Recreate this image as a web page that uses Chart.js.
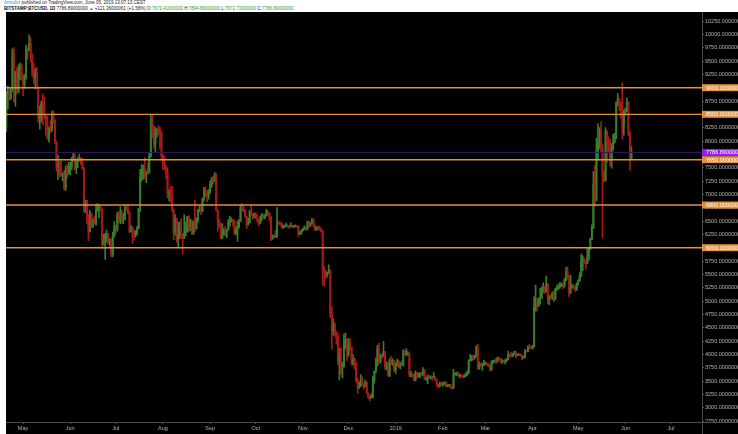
<!DOCTYPE html>
<html>
<head>
<meta charset="utf-8">
<script src="https://cdn.jsdelivr.net/npm/chart.js@4.4.1/dist/chart.umd.min.js"></script>
<style>
  html, body { margin: 0; padding: 0; background: #fff; }
  body { width: 738px; height: 434px; position: relative; overflow: hidden; font-family: "Liberation Sans", Arial, sans-serif; }
  #hdr { position: absolute; left: 4px; top: 0px; transform: scale(0.5); transform-origin: 0 0; white-space: nowrap; font-size: 9px; line-height: 11px; color: #222; }
  #hdr .user { color: #3a8fd8; }
  #hdr .g { color: #2f9a2f; }
  #hdr b { color: #111; }
  #wrap { position: absolute; left: 6px; top: 12px; width: 732px; height: 422px; background: #000; }
</style>
</head>
<body>
<div id="hdr">
  <div><span class="user">Annubiz</span> published on TradingView.com, June 05, 2019 13:07:13 CEST</div>
  <div><b>BITSTAMP:BTCUSD, 1D</b> 7786.89000000 <span class="g">▲</span> +121.36000061 (+1.58%) O:<span class="g">7673.41000000</span> H:<span class="g">7894.89000000</span> L:<span class="g">7672.73000000</span> C:<span class="g">7786.89000000</span></div>
</div>
<div id="wrap"><canvas id="chart" width="732" height="422"></canvas></div>
<script>
// ---------------- Data (daily candles, [open, high, low, close]) ----------------
const startDate = "2018-04-20";

const apr18 = [
  [8260,8930,8170,8850],[8850,9030,8600,8920],[8920,9000,8760,8800],[8800,9000,8780,8940],[8940,9730,8930,9650],
  [9650,9750,8730,8870],[8870,9310,8650,9280],[9280,9380,8900,8930],[8930,9430,8900,9350],[9350,9460,9150,9400],
  [9400,9450,9140,9240]
];
const may18 = [
  [9240,9250,8850,9070],[9070,9250,8990,9210],[9210,9800,9160,9740],[9740,9750,9530,9700],[9700,9990,9690,9830],
  [9830,9940,9480,9620],[9620,9630,9210,9360],[9360,9460,9080,9180],[9180,9360,8980,9300],[9300,9380,8980,9010],
  [9010,9010,8350,8420],[8420,8660,8220,8480],[8480,8750,8350,8700],[8700,8880,8300,8680],[8680,8830,8420,8480],
  [8480,8480,8110,8340],[8340,8470,8030,8060],[8060,8260,7980,8240],[8240,8380,8150,8230],[8230,8560,8180,8520],
  [8520,8560,8330,8390],[8390,8400,7950,7990],[7990,8000,7430,7500],[7500,7730,7280,7580],[7580,7630,7330,7460],
  [7460,7620,7340,7350],[7350,7400,7250,7360],[7360,7440,7090,7120],[7120,7530,7070,7470],[7470,7560,7310,7400],
  [7400,7600,7370,7500]
];
const jun18 = [
  [7500,7600,7370,7530],[7530,7690,7460,7640],[7640,7770,7620,7720],[7720,7750,7460,7490],[7490,7650,7390,7620],
  [7620,7690,7500,7650],[7650,7750,7630,7680],[7680,7690,7560,7620],[7620,7680,7470,7500],[7500,7500,6660,6760],
  [6760,6900,6660,6880],[6880,6890,6450,6550],[6550,6620,6130,6310],[6310,6700,6290,6640],[6640,6650,6380,6400],
  [6400,6550,6380,6500],[6500,6590,6440,6450],[6450,6800,6420,6710],[6710,6830,6680,6740],[6740,6800,6560,6760],
  [6760,6790,6700,6720],[6720,6730,5990,6060],[6060,6250,6050,6160],[6160,6270,5780,6250],[6250,6330,6100,6250],
  [6250,6270,6070,6090],[6090,6170,6030,6150],[6150,6170,5830,5870],[5870,6290,5830,6210],[6210,6490,6200,6390]
];
const jul18 = [
  [6390,6420,6260,6350],[6350,6660,6310,6610],[6610,6680,6480,6510],[6510,6770,6450,6590],[6590,6700,6460,6530],
  [6530,6650,6450,6600],[6600,6810,6520,6760],[6760,6790,6700,6710],[6710,6800,6640,6660],[6660,6680,6280,6300],
  [6300,6420,6290,6380],[6380,6390,6080,6240],[6240,6330,6140,6230],[6230,6320,6200,6270],[6270,6400,6240,6360],
  [6360,6740,6350,6730],[6730,7470,6680,7320],[7320,7560,7250,7380],[7380,7550,7280,7470],[7470,7690,7290,7340],
  [7340,7440,7220,7410],[7410,7580,7380,7400],[7400,7780,7400,7720],[7720,8490,7700,8400],[8400,8480,8060,8170],
  [8170,8290,7870,7940],[7940,8260,7800,8190],[8190,8230,8070,8220],[8220,8290,8110,8210],[8210,8260,7850,8170],
  [8170,8170,7640,7730]
];
const aug18 = [
  [7730,7750,7460,7600],[7600,7710,7460,7530],[7530,7540,7290,7410],[7410,7490,6930,7010],[7010,7090,6880,7030],
  [7030,7150,6850,6940],[6940,7150,6680,6720],[6720,6730,6150,6280],[6280,6620,6230,6540],[6540,6560,6100,6150],
  [6150,6480,6000,6240],[6240,6480,6170,6320],[6320,6540,6170,6250],[6250,6260,5880,6190],[6190,6620,6170,6270],
  [6270,6480,6220,6310],[6310,6590,6290,6580],[6580,6600,6300,6390],[6390,6540,6320,6490],[6490,6520,6250,6260],
  [6260,6500,6250,6480],[6480,6890,6300,6360],[6360,6560,6350,6530],[6530,6720,6480,6700],[6700,6800,6670,6730],
  [6730,6770,6620,6700],[6700,6930,6670,6910],[6910,7130,6880,7080],[7080,7140,6950,7040],[7040,7070,6860,6980],
  [6980,7090,6910,7030]
];
const sep18 = [
  [7030,7250,7020,7190],[7190,7320,7130,7290],[7290,7340,7190,7260],[7260,7410,7240,7370],[7370,7390,6690,6700],
  [6700,6700,6310,6520],[6520,6530,6370,6410],[6410,6460,6160,6180],[6180,6450,6170,6240],[6240,6360,6240,6320],
  [6320,6400,6220,6290],[6290,6340,6190,6330],[6330,6530,6330,6490],[6490,6590,6400,6490],[6490,6560,6480,6520],
  [6520,6530,6410,6500],[6500,6520,6250,6260],[6260,6390,6240,6340],[6340,6500,6120,6390],[6390,6530,6370,6490],
  [6490,6790,6490,6760],[6760,6830,6680,6710],[6710,6770,6680,6700],[6700,6720,6570,6590],[6590,6590,6360,6440],
  [6440,6550,6420,6470],[6470,6700,6460,6680],[6680,6790,6610,6630],[6630,6640,6530,6600],[6600,6650,6560,6630]
];
const oct18 = [
  [6630,6660,6540,6590],[6590,6620,6480,6510],[6510,6530,6410,6460],[6460,6600,6450,6560],[6560,6640,6510,6620],
  [6620,6630,6540,6580],[6580,6620,6540,6600],[6600,6720,6590,6680],[6680,6690,6610,6650],[6650,6650,6510,6580],
  [6580,6590,6130,6160],[6160,6240,6160,6200],[6200,6240,6190,6210],[6210,6330,6190,6200],[6200,6750,6190,6470],
  [6470,6500,6440,6450],[6450,6480,6420,6440],[6440,6470,6370,6380],[6380,6430,6360,6390],[6390,6420,6380,6410],
  [6410,6460,6400,6410],[6410,6430,6380,6400],[6400,6410,6360,6390],[6390,6470,6390,6410],[6410,6420,6380,6390],
  [6390,6420,6380,6400],[6400,6430,6390,6410],[6410,6420,6380,6400],[6400,6410,6210,6260],[6260,6300,6250,6280],
  [6280,6340,6250,6320]
];
const nov18 = [
  [6320,6370,6310,6350],[6350,6410,6340,6380],[6380,6390,6330,6360],[6360,6500,6330,6490],[6490,6490,6380,6420],
  [6420,6470,6400,6460],[6460,6550,6450,6530],[6530,6540,6390,6410],[6410,6430,6320,6340],[6340,6400,6330,6380],
  [6380,6390,6330,6370],[6370,6400,6330,6350],[6350,6360,6290,6310],[6310,6320,5300,5600],[5600,5640,5280,5560],
  [5560,5580,5410,5520],[5520,5540,5450,5520],[5520,5680,5510,5580],[5580,5580,4690,4760],[4760,4900,4100,4440],
  [4440,4670,4360,4560],[4560,4590,4340,4360],[4360,4430,4190,4330],[4330,4400,3800,3870],[3870,4120,3520,4000],
  [4000,4120,3620,3780],[3780,3850,3560,3780],[3780,4380,3760,4250],[4250,4400,4100,4250],[4250,4300,3880,4000]
];
const dec18 = [
  [4000,4290,3960,4200],[4200,4300,4080,4130],[4130,4140,3800,3820],[3820,4000,3800,3920],[3920,3930,3730,3750],
  [3750,3850,3480,3510],[3510,3560,3270,3400],[3400,3480,3360,3410],[3410,3620,3390,3520],[3520,3580,3420,3440],
  [3440,3450,3350,3390],[3390,3520,3390,3480],[3480,3480,3260,3260],[3260,3280,3170,3190],[3190,3230,3130,3180],
  [3180,3260,3180,3200],[3200,3590,3190,3530],[3530,3690,3460,3680],[3680,3930,3660,3800],[3800,4170,3780,4120],
  [4120,4210,3840,3870],[3870,4000,3830,4000],[4000,4020,3920,3960],[3960,4240,3960,4050],[4050,4050,3720,3770],
  [3770,3860,3710,3810],[3810,3840,3590,3600],[3600,3920,3580,3880],[3880,3970,3800,3820],[3820,3920,3790,3880],
  [3880,3890,3680,3700]
];
const jan19 = [
  [3700,3840,3640,3820],[3820,3910,3780,3880],[3880,3880,3750,3780],[3780,3850,3730,3810],[3810,3880,3790,3800],
  [3800,4090,3780,4050],[4050,4070,3990,4000],[4000,4110,3970,4000],[4000,4050,3990,4020],[4020,4030,3580,3630],
  [3630,3680,3580,3630],[3630,3640,3570,3610],[3610,3620,3500,3510],[3510,3690,3500,3660],[3660,3670,3560,3580],
  [3580,3650,3570,3610],[3610,3660,3560,3650],[3650,3660,3590,3610],[3610,3750,3610,3700],[3700,3720,3530,3540],
  [3540,3570,3510,3540],[3540,3620,3450,3580],[3580,3600,3540,3560],[3560,3600,3540,3580],[3580,3590,3520,3570],
  [3570,3660,3560,3570],[3570,3580,3510,3530],[3530,3530,3400,3430],[3430,3440,3370,3400],[3400,3480,3390,3450],
  [3450,3480,3420,3430]
];
const feb19 = [
  [3430,3470,3400,3450],[3450,3490,3430,3480],[3480,3480,3390,3410],[3410,3430,3390,3410],[3410,3440,3400,3430],
  [3430,3440,3360,3380],[3380,3390,3350,3370],[3370,3720,3360,3630],[3630,3650,3610,3630],[3630,3670,3600,3660],
  [3660,3670,3590,3600],[3600,3630,3560,3610],[3610,3630,3580,3590],[3590,3600,3560,3570],[3570,3620,3570,3590],
  [3590,3650,3590,3610],[3610,3690,3600,3650],[3650,3900,3640,3880],[3880,4000,3870,3900],[3900,3980,3880,3960],
  [3960,3990,3890,3920],[3920,3980,3910,3970],[3970,4160,3950,4120],[4120,4190,3720,3730],[3730,3860,3720,3820],
  [3820,3830,3780,3800],[3800,3840,3700,3810],[3810,3890,3790,3820]
];
const mar19 = [
  [3820,3860,3810,3830],[3830,3840,3790,3820],[3820,3830,3770,3790],[3790,3800,3680,3710],[3710,3880,3700,3860],
  [3860,3890,3830,3870],[3870,3900,3850,3880],[3880,3930,3830,3860],[3860,3950,3860,3940],[3940,3940,3900,3920],
  [3920,3930,3850,3870],[3870,3900,3830,3880],[3880,3890,3850,3870],[3870,3910,3820,3870],[3870,3920,3870,3910],
  [3910,4060,3900,4000],[4000,4010,3950,3980],[3980,4040,3950,3970],[3970,4020,3960,4010],[4010,4060,3990,4040],
  [4040,4060,3940,3980],[3980,4000,3970,3990],[3990,4010,3980,4000],[4000,4000,3970,3990],[3990,3990,3900,3930],
  [3930,3970,3920,3950],[3950,4090,3940,4080],[4080,4080,4040,4060],[4060,4160,4050,4150],[4150,4190,4100,4130],
  [4130,4140,4100,4120]
];
const apr19 = [
  [4120,4170,4100,4140],[4140,5080,4140,4880],[4880,5300,4810,4960],[4960,5050,4810,4910],[4910,5060,4900,5040],
  [5040,5240,4940,5060],[5060,5260,5050,5200],[5200,5340,5160,5270],[5270,5280,5140,5180],[5180,5470,5170,5320],
  [5320,5330,4950,5030],[5030,5100,4930,5080],[5080,5120,5040,5070],[5070,5170,5030,5150],[5150,5190,4990,5030],
  [5030,5240,5020,5220],[5220,5290,5200,5230],[5230,5320,5220,5280],[5280,5350,5240,5280],[5280,5340,5270,5320],
  [5320,5330,5230,5280],[5280,5430,5260,5390],[5390,5630,5380,5530],[5530,5640,5410,5430],[5430,5480,5080,5180],
  [5180,5480,5140,5250],[5250,5320,5240,5270],[5270,5300,5230,5260],[5260,5290,5180,5220],[5220,5340,5200,5320]
];
const may19 = [
  [5320,5400,5300,5380],[5380,5530,5370,5470],[5470,5880,5460,5750],[5750,5850,5570,5800],[5800,5800,5700,5730],
  [5730,5750,5600,5710],[5710,5990,5700,5810],[5810,6000,5760,5970],[5970,6180,5970,6170],[6170,6430,6150,6360],
  [6360,7430,6360,7200],[7200,7550,6780,6920],[6920,8050,6880,7820],[7820,8320,7640,7970],[7970,8250,7860,8190],
  [8190,8360,7800,7880],[7880,7950,6180,7350],[7350,7440,7230,7260],[7260,8250,7250,8190],[8190,8190,7600,7980],
  [7980,8080,7770,7950],[7950,8030,7530,7630],[7630,7950,7490,7880],[7880,8130,7830,7990],[7990,8150,7960,8060],
  [8060,8730,8040,8730],[8730,8890,8660,8800],[8800,8800,8570,8720],[8720,8730,8430,8660],[8660,9090,8030,8280],
  [8280,8580,8110,8550]
];
const jun19 = [
  [8550,8620,8480,8550],[8550,8810,8550,8730],[8730,8740,8100,8170],[8170,8170,7450,7665.53],[7673.41,7894.89,7672.73,7786.89]
];

// horizontal levels drawn on the chart
const levels = [9000, 8500, 7650, 6800, 6000];
const lastPrice = 7786.89;

// axis ticks
const yTicks = [2750, 3000, 3250, 3500, 3750, 4000, 4250, 4500, 4750, 5000, 5250, 5500, 5750, 6000, 6250, 6500,
  6750, 7000, 7250, 7500, 7750, 8000, 8250, 8500, 8750, 9000, 9250, 9500, 9750, 10000, 10250];
const xTickDates = ["2018-05-01", "2018-06-01", "2018-07-01", "2018-08-01", "2018-09-01", "2018-10-01", "2018-11-01",
  "2018-12-01", "2019-01-01", "2019-02-01", "2019-03-01", "2019-04-01", "2019-05-01", "2019-06-01", "2019-07-01"];
const xTickLabels = ["May", "Jun", "Jul", "Aug", "Sep", "Oct", "Nov", "Dec", "2019", "Feb", "Mar", "Apr", "May", "Jun", "Jul"];

// ---------------- View ----------------
const xMin = -0.2, xMax = 457.4;      // days from startDate
const yMin = 2732, yMax = 10419;

const upColor = "#37802a";
const downColor = "#a81a1a";
const levelColor = "#e0903e";
const lastColor = "#361566";
const lastBoxColor = "#9b1cf0";
const textColor = "#b4b4b4";
const font = '"Liberation Sans", Arial, sans-serif';

// ---------------- Build ----------------
const candles = [].concat(apr18, may18, jun18, jul18, aug18, sep18, oct18, nov18, dec18,
  jan19, feb19, mar19, apr19, may19, jun19);

const dayOf = d => Math.round((Date.parse(d) - Date.parse(startDate)) / 86400000);
const xTickDays = xTickDates.map(dayOf);

const wickData = candles.map((c, i) => ({ x: i, y: [c[2], c[1]] }));
const bodyData = candles.map((c, i) => ({ x: i, y: [c[0], c[3]] }));
const candleColor = ctx => {
  const c = candles[ctx.dataIndex];
  return c && c[3] >= c[0] ? upColor : downColor;
};

const hLine = (v, color, width) => ({
  type: "line",
  data: [{ x: xMin, y: v }, { x: xMax, y: v }],
  borderColor: color,
  borderWidth: width,
  pointRadius: 0,
  order: 1
});

// price boxes on the right axis
const axisBoxes = {
  id: "axisBoxes",
  afterDraw(chart) {
    const { ctx, scales: { y }, chartArea } = chart;
    ctx.save();
    // axis lines running to the canvas edges
    ctx.strokeStyle = "#4a4a4a";
    ctx.lineWidth = 1;
    ctx.beginPath();
    ctx.moveTo(chartArea.right + 0.5, 0);
    ctx.lineTo(chartArea.right + 0.5, chart.height);
    ctx.moveTo(0, chartArea.bottom + 0.5);
    ctx.lineTo(chart.width, chartArea.bottom + 0.5);
    ctx.stroke();

    ctx.font = "5.5px " + font;
    ctx.textBaseline = "middle";
    const box = (v, bg) => {
      const py = y.getPixelForValue(v);
      ctx.fillStyle = bg;
      ctx.fillRect(y.left, py - 3.5, y.right - y.left, 7);
      ctx.fillStyle = "#fff";
      ctx.fillText(v.toFixed(8), y.left + 4, py + 0.3);
    };
    box(lastPrice, lastBoxColor);
    levels.forEach(v => box(v, levelColor));
    ctx.restore();
  }
};

new Chart(document.getElementById("chart").getContext("2d"), {
  type: "bar",
  data: {
    datasets: [
      { data: wickData, backgroundColor: candleColor, barThickness: 1, grouped: false, order: 3 },
      { data: bodyData, backgroundColor: candleColor, barThickness: 1.3, minBarLength: 1, grouped: false, order: 2 },
      hLine(lastPrice, lastColor, 1),
      ...levels.map(v => hLine(v, levelColor, 1.4))
    ]
  },
  options: {
    responsive: false,
    animation: false,
    events: [],
    layout: { padding: 0 },
    plugins: { legend: { display: false }, tooltip: { enabled: false } },
    scales: {
      x: {
        type: "linear",
        min: xMin,
        max: xMax,
        offset: false,
        grid: { offset: false, drawOnChartArea: false, tickLength: 2, color: "#555" },
        border: { color: "#4a4a4a" },
        ticks: {
          autoSkip: false,
          maxRotation: 0,
          padding: 1.5,
          color: textColor,
          font: { family: font, size: 5.5 },
          callback: (v, i) => xTickLabels[i]
        },
        afterBuildTicks: s => { s.ticks = xTickDays.map(d => ({ value: d })); },
        afterFit: s => { s.height = 12; s.paddingLeft = 0; s.paddingRight = 0; }
      },
      y: {
        position: "right",
        min: yMin,
        max: yMax,
        grid: { drawOnChartArea: false, tickLength: 2, color: "#555" },
        border: { color: "#4a4a4a" },
        ticks: {
          padding: 1,
          crossAlign: "near",
          color: textColor,
          font: { family: font, size: 5.5 },
          callback: v => v.toFixed(8)
        },
        afterBuildTicks: s => { s.ticks = yTicks.map(v => ({ value: v })); },
        afterFit: s => { s.width = 36; s.paddingTop = 0; s.paddingBottom = 0; }
      }
    }
  },
  plugins: [axisBoxes]
});
</script>
</body>
</html>
